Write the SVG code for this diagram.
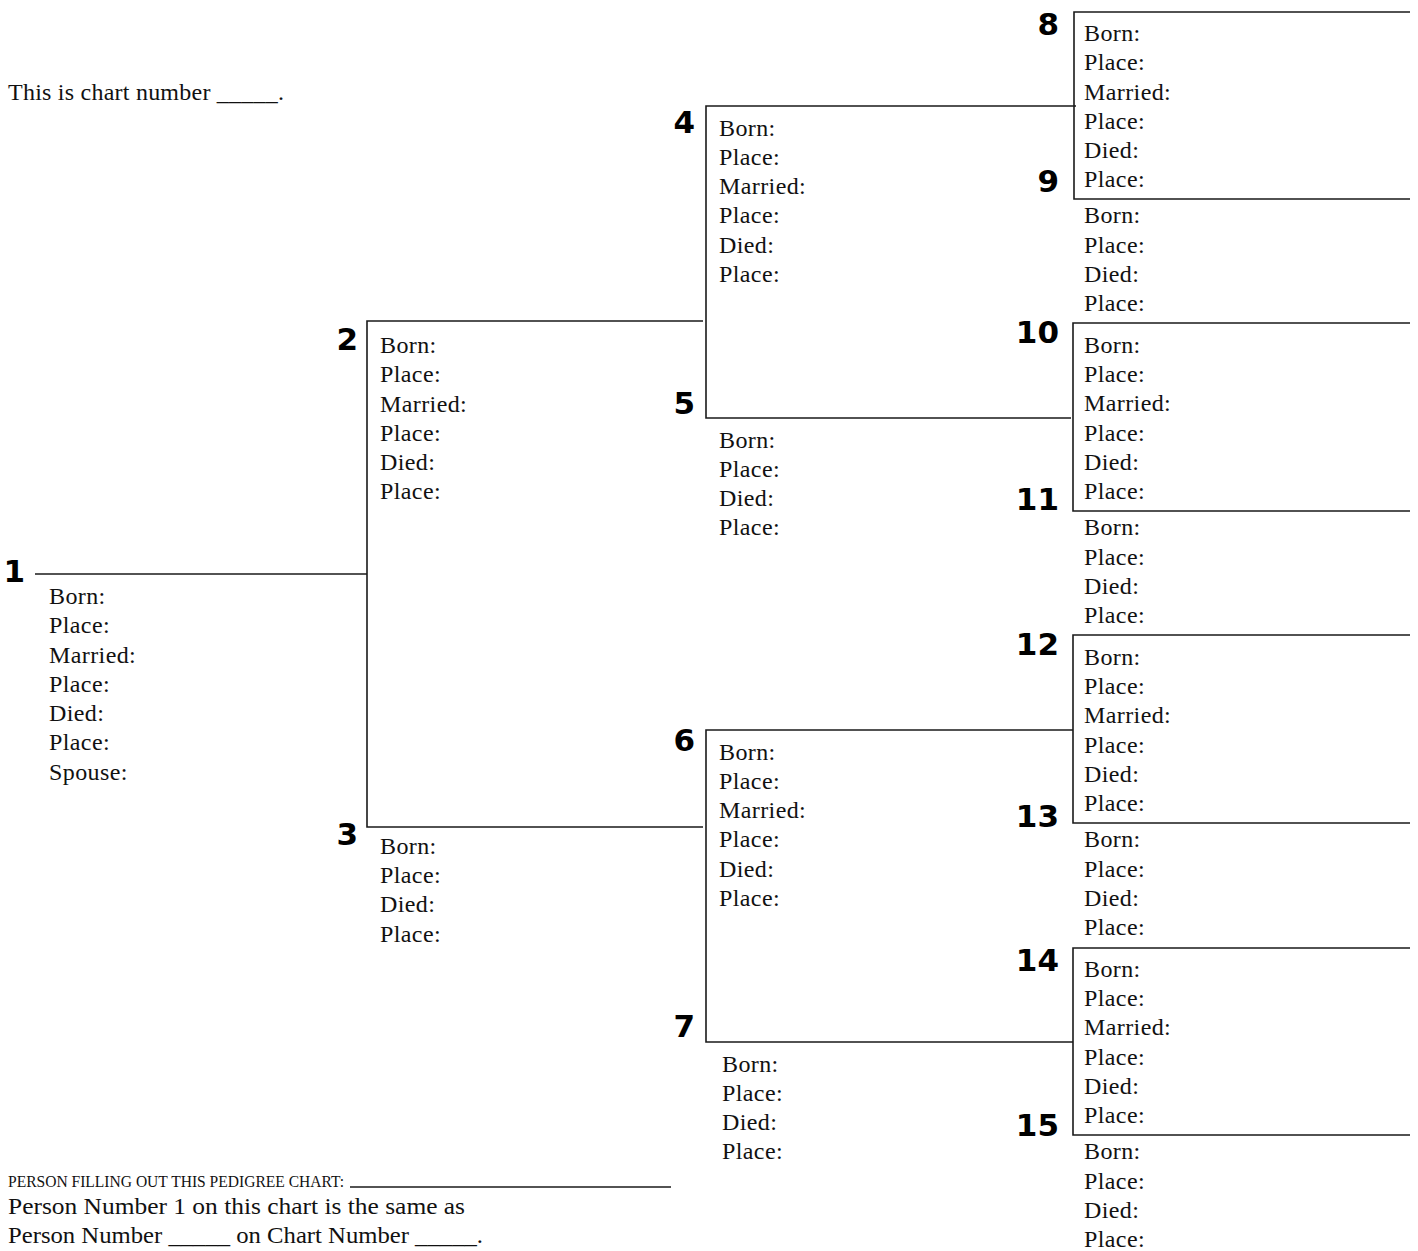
<svg xmlns="http://www.w3.org/2000/svg" width="1418" height="1251" viewBox="0 0 1418 1251">
<style>
  .bg{fill:#ffffff}
  .ln{fill:none;stroke:#1a1a1a;stroke-width:1.6}
  .t{font-family:"Liberation Serif","Times New Roman",serif;font-size:24px;letter-spacing:0.4px;fill:#111}
  .n{font-family:"DejaVu Sans",sans-serif;font-size:31px;font-weight:bold;fill:#000;text-anchor:end}
  .s{font-family:"Liberation Serif","Times New Roman",serif;font-size:16px;fill:#111}
  .f{font-family:"Liberation Serif","Times New Roman",serif;font-size:24px;fill:#111}
</style>
<rect class="bg" x="0" y="0" width="1418" height="1251"/>

<g id="connectors">
  <path class="ln" d="M35,574 H367"/>
  <path class="ln" d="M703,321 H367 V827 H703"/>
  <path class="ln" d="M1076,106 H706 V418 H1071"/>
  <path class="ln" d="M1073,730 H706 V1042 H1073"/>
  <path class="ln" d="M1410,12 H1074 V199 H1410"/>
  <path class="ln" d="M1410,323 H1073 V511 H1410"/>
  <path class="ln" d="M1410,635 H1073 V823 H1410"/>
  <path class="ln" d="M1410,948 H1073 V1135 H1410"/>
  <line class="ln" x1="350" y1="1187" x2="671" y2="1187" stroke-width="1.2"/>
</g>

<g id="header">
  <text class="f" x="8" y="100" textLength="276" lengthAdjust="spacing">This is chart number _____.</text>
</g>

<g id="person1">
  <text class="n" x="25" y="582">1</text>
  <text class="t" x="49" y="604">Born:</text>
  <text class="t" x="49" y="633">Place:</text>
  <text class="t" x="49" y="663">Married:</text>
  <text class="t" x="49" y="692">Place:</text>
  <text class="t" x="49" y="721">Died:</text>
  <text class="t" x="49" y="750">Place:</text>
  <text class="t" x="49" y="780">Spouse:</text>
</g>

<g id="person2">
  <text class="n" x="358" y="350">2</text>
  <text class="t" x="380" y="353">Born:</text>
  <text class="t" x="380" y="382">Place:</text>
  <text class="t" x="380" y="412">Married:</text>
  <text class="t" x="380" y="441">Place:</text>
  <text class="t" x="380" y="470">Died:</text>
  <text class="t" x="380" y="499">Place:</text>
</g>

<g id="person3">
  <text class="n" x="358" y="845">3</text>
  <text class="t" x="380" y="854">Born:</text>
  <text class="t" x="380" y="883">Place:</text>
  <text class="t" x="380" y="912">Died:</text>
  <text class="t" x="380" y="942">Place:</text>
</g>

<g id="person4">
  <text class="n" x="695" y="133">4</text>
  <text class="t" x="719" y="136">Born:</text>
  <text class="t" x="719" y="165">Place:</text>
  <text class="t" x="719" y="194">Married:</text>
  <text class="t" x="719" y="223">Place:</text>
  <text class="t" x="719" y="253">Died:</text>
  <text class="t" x="719" y="282">Place:</text>
</g>

<g id="person5">
  <text class="n" x="695" y="414">5</text>
  <text class="t" x="719" y="448">Born:</text>
  <text class="t" x="719" y="477">Place:</text>
  <text class="t" x="719" y="506">Died:</text>
  <text class="t" x="719" y="535">Place:</text>
</g>

<g id="person6">
  <text class="n" x="695" y="751">6</text>
  <text class="t" x="719" y="760">Born:</text>
  <text class="t" x="719" y="789">Place:</text>
  <text class="t" x="719" y="818">Married:</text>
  <text class="t" x="719" y="847">Place:</text>
  <text class="t" x="719" y="877">Died:</text>
  <text class="t" x="719" y="906">Place:</text>
</g>

<g id="person7">
  <text class="n" x="695" y="1037">7</text>
  <text class="t" x="722" y="1072">Born:</text>
  <text class="t" x="722" y="1101">Place:</text>
  <text class="t" x="722" y="1130">Died:</text>
  <text class="t" x="722" y="1159">Place:</text>
</g>

<g id="person8">
  <text class="n" x="1059" y="35">8</text>
  <text class="t" x="1084" y="41">Born:</text>
  <text class="t" x="1084" y="70">Place:</text>
  <text class="t" x="1084" y="100">Married:</text>
  <text class="t" x="1084" y="129">Place:</text>
  <text class="t" x="1084" y="158">Died:</text>
  <text class="t" x="1084" y="187">Place:</text>
</g>

<g id="person9">
  <text class="n" x="1059" y="192">9</text>
  <text class="t" x="1084" y="223">Born:</text>
  <text class="t" x="1084" y="253">Place:</text>
  <text class="t" x="1084" y="282">Died:</text>
  <text class="t" x="1084" y="311">Place:</text>
</g>

<g id="person10">
  <text class="n" x="1059" y="343">10</text>
  <text class="t" x="1084" y="353">Born:</text>
  <text class="t" x="1084" y="382">Place:</text>
  <text class="t" x="1084" y="411">Married:</text>
  <text class="t" x="1084" y="441">Place:</text>
  <text class="t" x="1084" y="470">Died:</text>
  <text class="t" x="1084" y="499">Place:</text>
</g>

<g id="person11">
  <text class="n" x="1059" y="510">11</text>
  <text class="t" x="1084" y="535">Born:</text>
  <text class="t" x="1084" y="565">Place:</text>
  <text class="t" x="1084" y="594">Died:</text>
  <text class="t" x="1084" y="623">Place:</text>
</g>

<g id="person12">
  <text class="n" x="1059" y="655">12</text>
  <text class="t" x="1084" y="665">Born:</text>
  <text class="t" x="1084" y="694">Place:</text>
  <text class="t" x="1084" y="723">Married:</text>
  <text class="t" x="1084" y="753">Place:</text>
  <text class="t" x="1084" y="782">Died:</text>
  <text class="t" x="1084" y="811">Place:</text>
</g>

<g id="person13">
  <text class="n" x="1059" y="827">13</text>
  <text class="t" x="1084" y="847">Born:</text>
  <text class="t" x="1084" y="877">Place:</text>
  <text class="t" x="1084" y="906">Died:</text>
  <text class="t" x="1084" y="935">Place:</text>
</g>

<g id="person14">
  <text class="n" x="1059" y="971">14</text>
  <text class="t" x="1084" y="977">Born:</text>
  <text class="t" x="1084" y="1006">Place:</text>
  <text class="t" x="1084" y="1035">Married:</text>
  <text class="t" x="1084" y="1065">Place:</text>
  <text class="t" x="1084" y="1094">Died:</text>
  <text class="t" x="1084" y="1123">Place:</text>
</g>

<g id="person15">
  <text class="n" x="1059" y="1136">15</text>
  <text class="t" x="1084" y="1159">Born:</text>
  <text class="t" x="1084" y="1189">Place:</text>
  <text class="t" x="1084" y="1218">Died:</text>
  <text class="t" x="1084" y="1247">Place:</text>
</g>

<g id="footer">
  <text class="s" x="8" y="1187" textLength="336" lengthAdjust="spacingAndGlyphs">PERSON FILLING OUT THIS PEDIGREE CHART:</text>
  <text class="f" x="8" y="1214" textLength="457" lengthAdjust="spacingAndGlyphs">Person Number 1 on this chart is the same as</text>
  <text class="f" x="8" y="1243" textLength="475" lengthAdjust="spacingAndGlyphs">Person Number _____ on Chart Number _____.</text>
</g>
</svg>
